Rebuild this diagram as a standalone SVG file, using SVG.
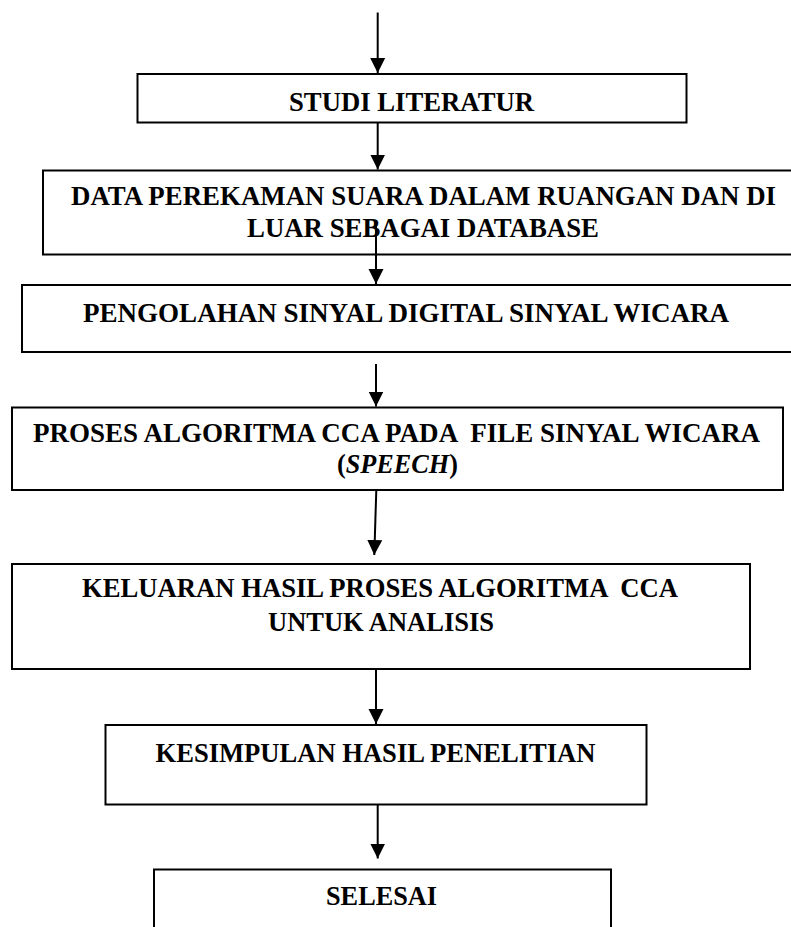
<svg xmlns="http://www.w3.org/2000/svg" width="791" height="927" viewBox="0 0 791 927">
<defs>
<style>
.box{fill:#fff;stroke:#000;stroke-width:2}
.t{font-family:'Liberation Serif','Times New Roman',serif;font-weight:700;font-size:26.5px;fill:#000}
.c{stroke:#000;stroke-width:2;fill:none;marker-end:url(#ah)}
</style>
<marker id="ah" markerUnits="userSpaceOnUse" markerWidth="16" markerHeight="16" viewBox="0 0 16 16" refX="15" refY="8" orient="auto">
<path d="M0,0.5 L15,8 L0,15.5 Z" fill="#000"/>
</marker>
</defs>
<rect width="791" height="927" fill="#fff"/>
<g id="n1"><rect class="box" x="137.5" y="74" width="549" height="48.5"/><text class="t" x="289" y="110.5" textLength="245" lengthAdjust="spacingAndGlyphs">STUDI LITERATUR</text></g>
<g id="n2"><rect class="box" x="43" y="170.5" width="760" height="84"/><text class="t" x="71" y="205" textLength="705" lengthAdjust="spacingAndGlyphs">DATA PEREKAMAN SUARA DALAM RUANGAN DAN DI</text><text class="t" x="247" y="236.5" textLength="352" lengthAdjust="spacingAndGlyphs">LUAR SEBAGAI DATABASE</text></g>
<g id="n3"><rect class="box" x="22" y="285" width="781" height="67"/><text class="t" x="83" y="321.5" textLength="646" lengthAdjust="spacingAndGlyphs">PENGOLAHAN SINYAL DIGITAL SINYAL WICARA</text></g>
<g id="n4"><rect class="box" x="12" y="407.5" width="771" height="82.5"/><text class="t" x="33" y="441.5" xml:space="preserve" textLength="727" lengthAdjust="spacingAndGlyphs">PROSES ALGORITMA CCA PADA  FILE SINYAL WICARA</text><text class="t" x="337" y="473" textLength="121" lengthAdjust="spacingAndGlyphs">(<tspan font-style="italic">SPEECH</tspan>)</text></g>
<g id="n5"><rect class="box" x="12" y="564" width="738" height="105"/><text class="t" x="82" y="596.5" xml:space="preserve" textLength="596" lengthAdjust="spacingAndGlyphs">KELUARAN HASIL PROSES ALGORITMA  CCA</text><text class="t" x="268" y="631" textLength="226" lengthAdjust="spacingAndGlyphs">UNTUK ANALISIS</text></g>
<g id="n6"><rect class="box" x="105.5" y="725" width="541" height="79.5"/><text class="t" x="155.5" y="761.5" textLength="440" lengthAdjust="spacingAndGlyphs">KESIMPULAN HASIL PENELITIAN</text></g>
<g id="n7"><rect class="box" x="154" y="869.5" width="457" height="80"/><text class="t" x="326" y="905" textLength="111" lengthAdjust="spacingAndGlyphs">SELESAI</text></g>
<g id="connectors">
<line class="c" x1="377.7" y1="12.5" x2="377.7" y2="73"/>
<line class="c" x1="377.7" y1="122.5" x2="377.7" y2="169.5"/>
<line class="c" x1="376" y1="226" x2="376" y2="284"/>
<line class="c" x1="376" y1="364" x2="376" y2="406.5"/>
<line class="c" x1="376.3" y1="490" x2="374.3" y2="555"/>
<line class="c" x1="376" y1="669" x2="376" y2="724"/>
<line class="c" x1="377.7" y1="804.5" x2="377.7" y2="858.5"/>
</g>
</svg>
